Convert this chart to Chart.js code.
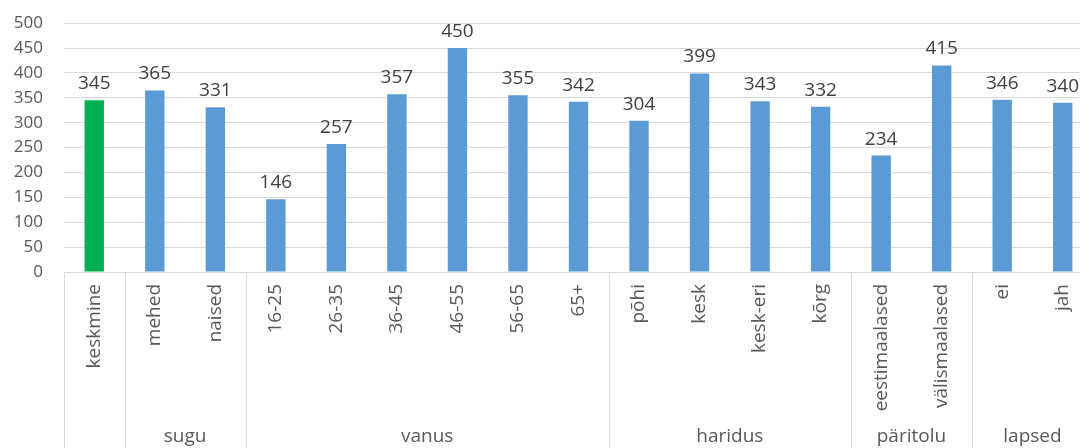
<!DOCTYPE html>
<html>
<head>
<meta charset="utf-8">
<script src="https://cdn.jsdelivr.net/npm/chart.js@4/dist/chart.umd.min.js"></script>
<style>
  html, body { margin: 0; padding: 0; background: #fff; overflow: hidden; }
  #wrap { width: 1100px; height: 456px; margin-top: -8px; position: relative; }
</style>
</head>
<body>
<div id="wrap"><canvas id="myChart"></canvas></div>
<script>
// andmed
const categories = ['keskmine', 'mehed', 'naised', '16-25', '26-35', '36-45', '46-55', '56-65', '65+',
    'põhi', 'kesk', 'kesk-eri', 'kõrg', 'eestimaalased', 'välismaalased', 'ei', 'jah'];
const values = [345, 365, 331, 146, 257, 357, 450, 355, 342, 304, 399, 343, 332, 234, 415, 346, 340];
const groupLabels = ['', 'sugu', 'vanus', 'haridus', 'päritolu', 'lapsed'];
const groupSizes = [1, 2, 6, 4, 2, 2];
const yTicks = [0, 50, 100, 150, 200, 250, 300, 350, 400, 450, 500];

const FONT = '"Open Sans", sans-serif';

// väärtused tulpade kohale
const valueLabels = {
    id: 'valueLabels',
    afterDatasetsDraw(chart) {
        const ctx = chart.ctx;
        const meta = chart.getDatasetMeta(0);
        ctx.save();
        ctx.font = '19px ' + FONT;
        ctx.fillStyle = '#404040';
        ctx.textAlign = 'center';
        ctx.textBaseline = 'alphabetic';
        meta.data.forEach((bar, i) => {
            ctx.fillText(values[i], bar.x, bar.y - 11);
        });
        ctx.restore();
    }
};

// grupid x-telje all
const groupAxis = {
    id: 'groupAxis',
    afterDraw(chart) {
        const ctx = chart.ctx;
        const x = chart.scales.x;
        const top = chart.chartArea.bottom;
        const bottom = chart.height;
        const half = (x.getPixelForValue(1) - x.getPixelForValue(0)) / 2;
        ctx.save();
        ctx.strokeStyle = '#d9d9d9';
        ctx.lineWidth = 1;
        ctx.font = '19px ' + FONT;
        ctx.fillStyle = '#595959';
        ctx.textAlign = 'center';
        ctx.textBaseline = 'middle';
        let start = 0;
        groupSizes.forEach((n, g) => {
            const left = x.getPixelForValue(start) - half;
            const right = x.getPixelForValue(start + n - 1) + half;
            const px = Math.round(left) + 0.5;
            ctx.beginPath();
            ctx.moveTo(px, top);
            ctx.lineTo(px, bottom);
            ctx.stroke();
            if (groupLabels[g]) ctx.fillText(groupLabels[g], (left + right) / 2, bottom - 11);
            start += n;
        });
        ctx.restore();
    }
};

new Chart(document.getElementById('myChart'), {
    type: 'bar',
    data: {
        labels: categories,
        datasets: [{
            data: values,
            backgroundColor: values.map((v, i) => i === 0 ? '#00B050' : '#5B9BD5'),
            categoryPercentage: 1,
            barPercentage: 0.32
        }]
    },
    options: {
        responsive: true,
        maintainAspectRatio: false,
        animation: false,
        layout: { padding: { top: 4, right: 7, left: 0, bottom: 0 } },
        plugins: {
            legend: { display: false },
            tooltip: { enabled: false }
        },
        scales: {
            y: {
                min: 0,
                max: 500,
                afterBuildTicks: (s) => { s.ticks = yTicks.map(v => ({ value: v })); },
                afterFit: (s) => { s.width = 64; },
                grid: { color: '#d9d9d9', drawTicks: false },
                border: { display: false },
                ticks: {
                    padding: 21,
                    color: '#595959',
                    font: { family: FONT, size: 17 }
                }
            },
            x: {
                afterFit: (s) => { s.height = 176; },
                grid: { display: false },
                border: { color: '#d9d9d9' },
                ticks: {
                    minRotation: 90,
                    maxRotation: 90,
                    autoSkip: false,
                    padding: 4,
                    color: '#595959',
                    font: { family: FONT, size: 19 }
                }
            }
        }
    },
    plugins: [valueLabels, groupAxis]
});
</script>
</body>
</html>
